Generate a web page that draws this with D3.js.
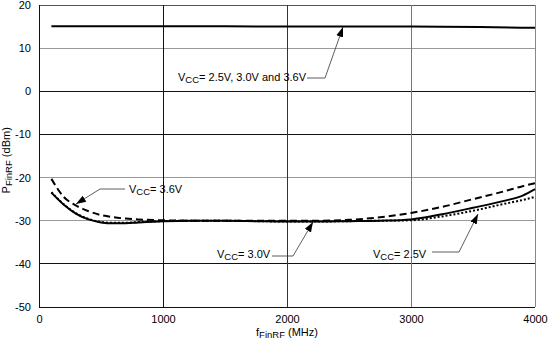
<!DOCTYPE html>
<html><head><meta charset="utf-8">
<script src="https://cdn.jsdelivr.net/npm/d3@7"></script>
<style>body{margin:0;background:#fff}svg{display:block}text{font-family:"Liberation Sans",Arial,sans-serif;font-size:11px;fill:#000}</style>
</head><body>
<script>
const xTicks = [0, 1000, 2000, 3000, 4000];
const yTicks = [20, 10, 0, -10, -20, -30, -40, -50];
const freqTop = [100, 1000, 2000, 3000, 4000];
const vAll = [15.1, 15.1, 15.0, 15.0, 14.7];
const freq = [100, 200, 300, 400, 500, 600, 700, 800, 1000, 1250, 1500, 1750, 2000, 2250, 2500, 2750, 3000, 3250, 3500, 3750, 3900, 4000];
const v30 = [-23.5, -26.3, -28.4, -29.7, -30.4, -30.6, -30.6, -30.4, -30.1, -30.0, -30.0, -30.1, -30.2, -30.2, -30.1, -30.0, -29.7, -28.5, -27.0, -25.4, -24.2, -22.7];
const v36 = [-20.3, -24.5, -26.5, -27.8, -28.7, -29.2, -29.5, -29.7, -29.9, -30.0, -30.0, -30.0, -30.0, -30.0, -29.8, -29.2, -28.2, -26.8, -25.0, -23.2, -22.0, -21.3];
const v25 = [-23.4, -26.2, -28.3, -29.6, -30.3, -30.5, -30.5, -30.3, -30.1, -30.0, -30.0, -30.1, -30.2, -30.2, -30.1, -30.0, -29.9, -29.0, -27.7, -26.1, -25.2, -24.5];

const W = 548, H = 343;
const svg = d3.select("body").append("svg").attr("width", W).attr("height", H);
const x = d3.scaleLinear().domain([0, 4000]).range([39, 535]);
const y = d3.scaleLinear().domain([-50, 20]).range([307, 5]);

const hCol = {"20": "#555", "10": "#999", "0": "#111", "-10": "#111", "-20": "#999", "-30": "#999", "-40": "#111", "-50": "#111"};
const vCol = {"0": "#111", "1000": "#111", "2000": "#333", "3000": "#777", "4000": "#888"};

const grid = svg.append("g");
yTicks.forEach(t => grid.append("line").attr("x1", x(0)).attr("x2", x(4000)).attr("y1", y(t)).attr("y2", y(t))
  .attr("stroke", hCol[t]).attr("stroke-width", 1).attr("shape-rendering", "crispEdges"));
xTicks.forEach(t => grid.append("line").attr("x1", x(t)).attr("x2", x(t)).attr("y1", y(20)).attr("y2", y(-50))
  .attr("stroke", vCol[t]).attr("stroke-width", 1).attr("shape-rendering", "crispEdges"));

// axes labels
const fmt = d => String(d);
const yAxis = d3.axisLeft(y).tickValues(yTicks).tickSize(0).tickPadding(8).tickFormat(fmt);
const gy = svg.append("g").attr("transform", `translate(${x(0)},0)`).call(yAxis);
gy.select(".domain").remove();
gy.selectAll("text").style("font-size", "11px").attr("fill", "#000");
const xAxis = d3.axisBottom(x).tickValues(xTicks).tickSize(0).tickPadding(8).tickFormat(fmt);
const gx = svg.append("g").attr("transform", `translate(0,${y(-50)})`).call(xAxis);
gx.select(".domain").remove();
gx.selectAll("text").style("font-size", "11px").attr("fill", "#000");

// axis titles
const xt = svg.append("text").attr("x", x(2000)).attr("y", 336).attr("text-anchor", "middle");
xt.append("tspan").text("f");
xt.append("tspan").text("FinRF").attr("dy", 2).style("font-size", "9.5px");
xt.append("tspan").text(" (MHz)").attr("dy", -2);
const yt = svg.append("text").attr("transform", `translate(10,${y(-16)}) rotate(-90)`).attr("text-anchor", "middle");
yt.append("tspan").text("P");
yt.append("tspan").text("FinRF").attr("dy", 2).style("font-size", "9.5px");
yt.append("tspan").text(" (dBm)").attr("dy", -2);

// curves
const line = d3.line().x(d => x(d[0])).y(d => y(d[1])).curve(d3.curveMonotoneX);
const series = [
  {f: freqTop, v: vAll, dash: null},
  {f: freq, v: v25, dash: "2,2"},
  {f: freq, v: v30, dash: null},
  {f: freq, v: v36, dash: "7,4"}
];
series.forEach(s => {
  svg.append("path").datum(s.f.map((f, i) => [f, s.v[i]])).attr("d", line)
    .attr("fill", "none").attr("stroke", "#000").attr("stroke-width", 2)
    .attr("stroke-dasharray", s.dash);
});

// annotations
const defs = svg.append("defs");
defs.append("marker").attr("id", "arr").attr("viewBox", "0 0 10 10").attr("refX", 10).attr("refY", 5)
  .attr("markerWidth", 10).attr("markerHeight", 10).attr("markerUnits", "userSpaceOnUse").attr("orient", "auto")
  .append("path").attr("d", "M0,1.5 L10,5 L0,8.5 Z").attr("fill", "#000");

function vcc(tx, ty, rest, anchor) {
  const t = svg.append("text").attr("x", tx).attr("y", ty).attr("text-anchor", anchor || "start");
  t.append("tspan").text("V");
  t.append("tspan").text("CC").attr("dy", 2).style("font-size", "9.5px");
  t.append("tspan").text(rest).attr("dy", -2);
}
function leader(pts) {
  svg.append("path").attr("d", d3.line()(pts)).attr("fill", "none").attr("stroke", "#333")
    .attr("stroke-width", 0.8).attr("marker-end", "url(#arr)");
}
vcc(178, 81, "= 2.5V, 3.0V and 3.6V");
leader([[307, 78], [325, 78], [343, 27]]);
vcc(129, 193, "= 3.6V");
leader([[125, 189], [100, 189], [76, 204]]);
vcc(217, 258, "= 3.0V");
leader([[272, 256], [293, 256], [313, 222]]);
vcc(373, 258, "= 2.5V");
leader([[432, 252], [459, 252], [478, 214]]);
</script>
</body></html>
